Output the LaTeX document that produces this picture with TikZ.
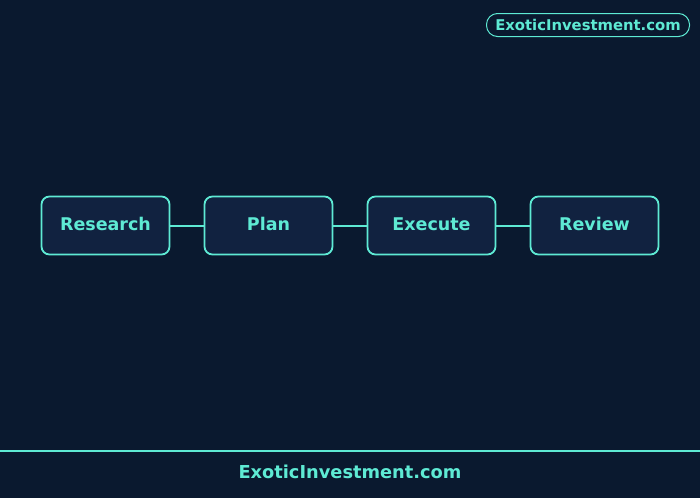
\documentclass[tikz,border=0pt]{standalone}
\usepackage{fontspec}
\setmainfont{DejaVu Sans}
\definecolor{bgc}{HTML}{0A192F}
\definecolor{boxc}{HTML}{112240}
\definecolor{accent}{HTML}{5EEAD4}
\begin{document}
\begin{tikzpicture}[x=1pt,y=-1pt,
  stepbox/.style={draw=accent,line width=1.8pt,fill=boxc,rounded corners=8pt,
    minimum width=128pt,minimum height=58pt,inner sep=0pt,text height=13pt,text depth=3.4pt,
    font=\fontsize{17.5}{20}\selectfont\bfseries,text=accent},
  link/.style={color=accent,line width=2pt}]
\fill[bgc] (0,0) rectangle (700,498);
\useasboundingbox (0,0) rectangle (700,498);
\node[stepbox] (research) at (105.5,225.5) {Research};
\node[stepbox] (plan) at (268.5,225.5) {Plan};
\node[stepbox] (execute) at (431.5,225.5) {Execute};
\node[stepbox] (review) at (594.5,225.5) {Review};
\draw[link] (research.east) -- (plan.west);
\draw[link] (plan.east) -- (execute.west);
\draw[link] (execute.east) -- (review.west);
\node[draw=accent,line width=1pt,fill=bgc,rounded corners=11pt,minimum width=203pt,minimum height=23pt,inner sep=0pt,
  font=\fontsize{14.8}{17}\selectfont\bfseries,text=accent] (badge) at (588,25) {ExoticInvestment.com};
\coordinate (lineL) at (0,451);
\coordinate (lineR) at (700,451);
\draw[accent,line width=1.8pt] (lineL) -- (lineR);
\node[font=\fontsize{17.8}{20}\selectfont\bfseries,text=accent] (footer) at (350,472) {ExoticInvestment.com};
\end{tikzpicture}
\end{document}
